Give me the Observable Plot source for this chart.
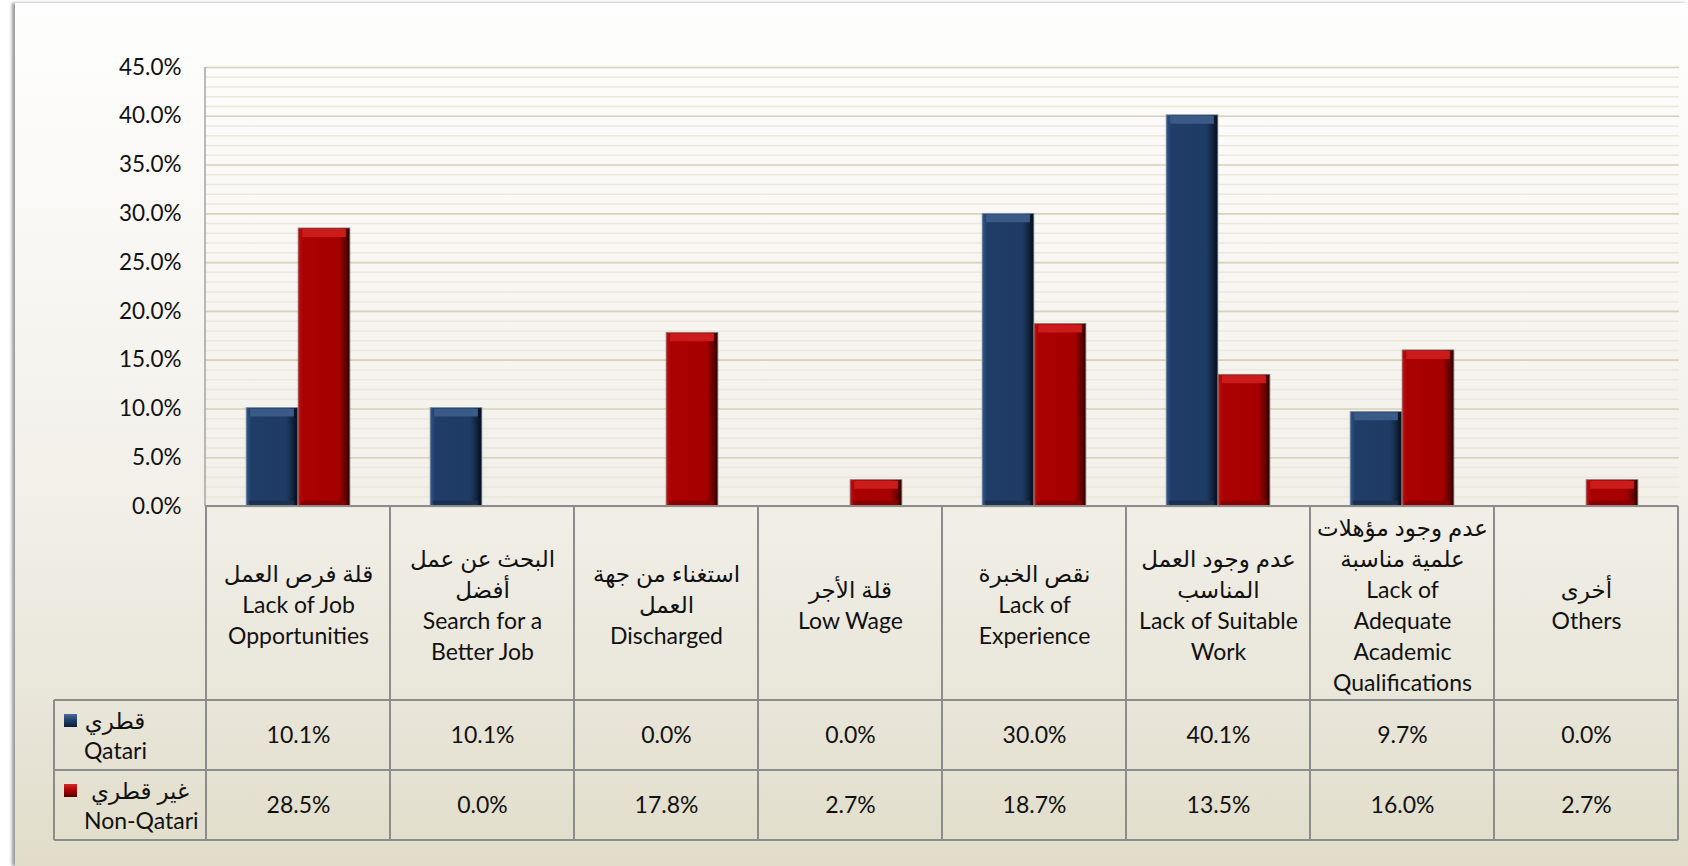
<!DOCTYPE html>
<html><head><meta charset="utf-8">
<script src="https://cdn.jsdelivr.net/npm/d3@7"></script>
<script src="https://cdn.jsdelivr.net/npm/@observablehq/plot@0.6"></script>
<style>
html,body{margin:0;padding:0;background:#fff;width:1688px;height:866px;overflow:hidden}
#panel{position:absolute;left:15px;top:3px;width:1673px;height:863px;
 background:linear-gradient(to bottom,#fefefe 0%,#f9f8f5 25%,#f2f0e9 55%,#e9e6da 80%,#e1ddca 100%);
 box-shadow:-3px 0 3px rgba(0,0,0,0.4)}
#chart{position:absolute;left:0;top:0}
</style></head><body><div id="panel"></div><div id="chart"></div>
<script>
// ---- data ----
const categories = ["jobOpp","betterJob","discharged","lowWage","experience","suitableWork","qualifications","others"];
const categoryLabels = [
  "قلة فرص العمل\nLack of Job\nOpportunities",
  "البحث عن عمل\nأفضل\nSearch for a\nBetter Job",
  "استغناء من جهة\nالعمل\nDischarged",
  "قلة الأجر\nLow Wage",
  "نقص الخبرة\nLack of\nExperience",
  "عدم وجود العمل\nالمناسب\nLack of Suitable\nWork",
  "عدم وجود مؤهلات\nعلمية مناسبة\nLack of\nAdequate\nAcademic\nQualifications",
  "أخرى\nOthers"
];
const seriesNames = ["Qatari", "Non-Qatari"];
const seriesArabic = ["قطري", "غير قطري"];
const qatari    = [0.101, 0.101, 0.000, 0.000, 0.300, 0.401, 0.097, 0.000];
const nonQatari = [0.285, 0.000, 0.178, 0.027, 0.187, 0.135, 0.160, 0.027];
const yTicks = [0, 0.05, 0.10, 0.15, 0.20, 0.25, 0.30, 0.35, 0.40, 0.45];
const yMinorTicks = d3.range(0, 46).map(i => i / 100);

// ---- layout ----
const W = 1688, H = 866, mL = 205, mR = 9, mT = 67, mB = 360;
const band = (W - mL - mR) / categories.length, half = band / 2, barW = 52;
const fmt = d3.format(".1%");
const FONT = "Lato, 'DejaVu Sans', sans-serif";
const FS = 23;

const rows = categories.map((c, i) => ({cat: c, label: categoryLabels[i], q: qatari[i], n: nonQatari[i]}));
const qData = rows.filter(d => d.q > 0);
const nData = rows.filter(d => d.n > 0);

const plot = Plot.plot({
  width: W, height: H, marginLeft: mL, marginRight: mR, marginTop: mT, marginBottom: mB,
  style: {background: "transparent", fontFamily: FONT, fontSize: FS + "px", color: "#111", overflow: "visible"},
  x: {domain: categories, padding: 0, axis: null},
  y: {domain: [0, 0.45], axis: null},
  marks: [
    Plot.ruleY(yMinorTicks, {stroke: "#ebe8dc", strokeWidth: 1.5}),
    Plot.ruleY(yTicks, {stroke: "#dad3bb", strokeWidth: 1.6}),
    // Qatari bars
    Plot.barY(qData, {x: "cat", y: "q", fill: "url(#gBlue)", stroke: "#8994a6", strokeWidth: 0.8,
      insetLeft: half - barW, insetRight: half}),
    Plot.tickY(qData, {x: "cat", y: "q", stroke: "#3a5a87", strokeWidth: 8, dy: 4.5,
      insetLeft: half - barW + 4, insetRight: half + 4}),
    Plot.tickY(qData, {x: "cat", y: () => 0, stroke: "#1b3150", strokeWidth: 6, dy: -3,
      insetLeft: half - barW + 3, insetRight: half + 4}),
    // Non-Qatari bars
    Plot.barY(nData, {x: "cat", y: "n", fill: "url(#gRed)", stroke: "#8c7a7a", strokeWidth: 0.8,
      insetLeft: half, insetRight: half - barW}),
    Plot.tickY(nData, {x: "cat", y: "n", stroke: "#cc1b1b", strokeWidth: 8, dy: 4.5,
      insetLeft: half + 4, insetRight: half - barW + 4}),
    Plot.tickY(nData, {x: "cat", y: () => 0, stroke: "#8a0000", strokeWidth: 6, dy: -3,
      insetLeft: half + 3, insetRight: half - barW + 4}),
    // y axis
    Plot.axisY({ticks: yTicks, tickFormat: fmt, tickSize: 0, tickPadding: 24, fontSize: 22.5, fill: "#111"}),
    // category labels (table header row)
    Plot.text(rows, {x: "cat", text: "label", frameAnchor: "bottom", lineAnchor: "middle", dy: 97,
      lineHeight: 31 / FS, fontSize: FS, fill: "#111"}),
    // table values
    Plot.text(rows, {x: "cat", text: d => fmt(d.q), frameAnchor: "bottom", lineAnchor: "middle", dy: 229, fontSize: FS, fill: "#111"}),
    Plot.text(rows, {x: "cat", text: d => fmt(d.n), frameAnchor: "bottom", lineAnchor: "middle", dy: 299, fontSize: FS, fill: "#111"})
  ]
});

const svg = d3.select(plot);
const defs = svg.insert("defs", ":first-child");
function hgrad(id, stops) {
  const g = defs.append("linearGradient").attr("id", id).attr("x1", 0).attr("x2", 1).attr("y1", 0).attr("y2", 0);
  stops.forEach(([o, c]) => g.append("stop").attr("offset", o).attr("stop-color", c));
}
hgrad("gBlue", [[0, "#34558a"], [0.1, "#1f3d68"], [0.78, "#1e3b64"], [0.9, "#11233d"], [1, "#050b15"]]);
hgrad("gRed", [[0, "#c01010"], [0.1, "#aa0000"], [0.78, "#a60000"], [0.9, "#6a0000"], [1, "#2a0000"]]);
function vgrad(id, stops) {
  const g = defs.append("linearGradient").attr("id", id).attr("x1", 0).attr("x2", 0).attr("y1", 0).attr("y2", 1);
  stops.forEach(([o, c]) => g.append("stop").attr("offset", o).attr("stop-color", c));
}
vgrad("mBlue", [[0, "#4a6c9a"], [0.5, "#1f3d68"], [1, "#0d1b30"]]);
vgrad("mRed", [[0, "#d42a2a"], [0.5, "#a80000"], [1, "#500000"]]);

// ---- table grid (positioned from Plot's x scale) ----
const xs = plot.scale("x");
const edges = categories.map(c => xs.apply(c));
edges.push(edges[edges.length - 1] + xs.bandwidth);
const y0 = H - mB, r1 = y0 + 194, r2 = y0 + 264, r3 = y0 + 334, legendLeft = 54;
const g = svg.append("g").attr("stroke", "#8c8c8c").attr("stroke-width", 2).attr("fill", "none");
g.append("line").attr("x1", mL).attr("x2", mL).attr("y1", mT).attr("y2", y0).attr("stroke", "#a4a4a4").attr("stroke-width", 1.5);
g.append("line").attr("x1", mL).attr("x2", edges[edges.length - 1]).attr("y1", y0).attr("y2", y0);
[r1, r2, r3].forEach(y => g.append("line").attr("x1", legendLeft).attr("x2", edges[edges.length - 1]).attr("y1", y).attr("y2", y));
edges.forEach(x => g.append("line").attr("x1", x).attr("x2", x).attr("y1", y0).attr("y2", r3));
g.append("line").attr("x1", legendLeft).attr("x2", legendLeft).attr("y1", r1).attr("y2", r3);

// ---- legend cells ----
const lg = svg.append("g").attr("font-family", FONT).attr("font-size", FS).attr("fill", "#111");
[[r1, "url(#mBlue)", 115], [r2, "url(#mRed)", 140]].forEach(([top, fill, arX], i) => {
  lg.append("rect").attr("x", 64).attr("y", top + 14).attr("width", 13).attr("height", 13).attr("fill", fill);
  lg.append("text").attr("x", arX).attr("y", top + 21).attr("dy", "0.35em").attr("text-anchor", "middle").text(seriesArabic[i]);
  lg.append("text").attr("x", 84).attr("y", top + 51).attr("dy", "0.35em").attr("text-anchor", "start").text(seriesNames[i]);
});

document.getElementById("chart").appendChild(plot);
</script></body></html>
